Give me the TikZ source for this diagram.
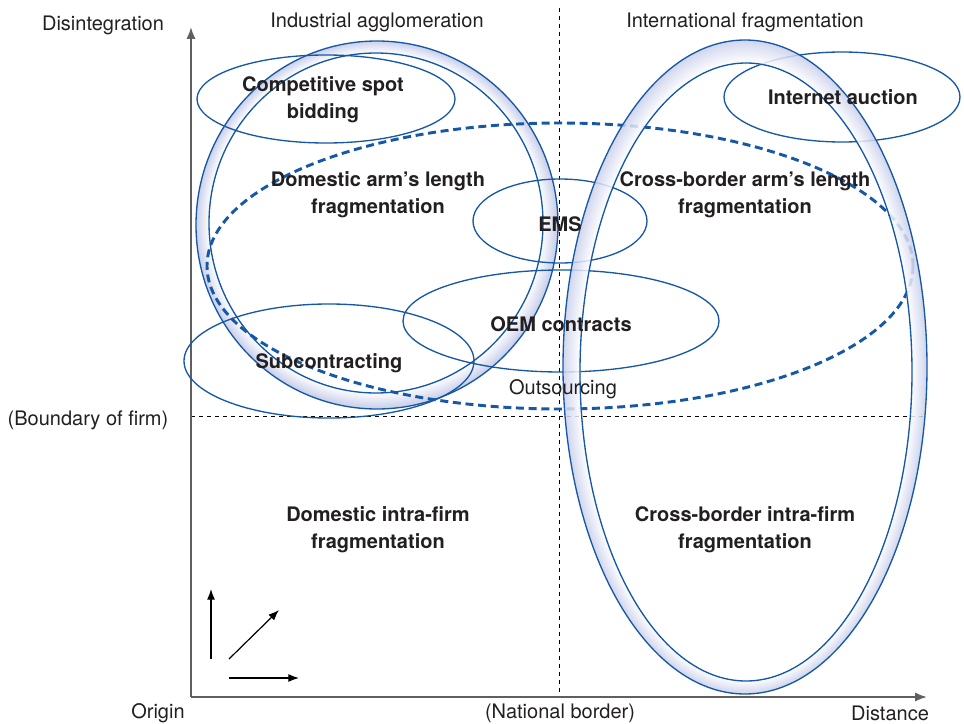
\documentclass[tikz,border=0pt]{standalone}
\usepackage{fontspec}
\setmainfont{TeX Gyre Heros}
\usepackage{xcolor}
\usetikzlibrary{arrows.meta}

\definecolor{ringblue}{RGB}{22,88,165}
\definecolor{tubefill}{RGB}{150,160,215}
\definecolor{inkgray}{RGB}{35,31,32}
\definecolor{axisgray}{RGB}{95,95,95}

\begin{document}
\begin{tikzpicture}[
    x=0.75pt, y=-0.75pt,
    every node/.style={font=\fontsize{15}{18.75}\selectfont, text=inkgray, align=center},
    region/.style={font=\fontsize{15}{20}\selectfont\bfseries},
    oval/.style={draw=ringblue, line width=1pt},
    outsource/.style={draw=ringblue, line width=2.2pt, dash pattern=on 6pt off 3.5pt},
    guide/.style={draw=black, line width=0.7pt, dash pattern=on 3pt off 3pt},
    axis/.style={draw=axisgray, line width=1.5pt, -{Latex[length=9pt,width=7pt]}},
    key/.style={draw=black, line width=0.9pt, -{Latex[length=8pt,width=6pt]}}
]
    \useasboundingbox (0,0) rectangle (964,724);

    % Named points
    \coordinate (origin) at (191,697);
    \coordinate (ytip) at (191,27);
    \coordinate (xtip) at (927,697);
    \coordinate (border top) at (559,8);
    \coordinate (border foot) at (559,697);
    \coordinate (firm left) at (191,416);
    \coordinate (firm right) at (925,416);

    % Left ring: industrial agglomeration
    \foreach \k in {0,...,11}{
        \pgfmathsetmacro\ta{\k/12}
        \pgfmathsetmacro\pct{50-47*\k/11}
        \fill[tubefill!\pct!white, even odd rule]
            ({377-\ta},{225-2*\ta}) ellipse [x radius={181-14*\ta}, y radius={184-14*\ta}]
            (376,223) ellipse [x radius=167, y radius=170];
    }
    \draw[oval] (377,225) ellipse [x radius=181, y radius=184];
    \draw[oval] (376,223) ellipse [x radius=167, y radius=170];

    % Guides
    \draw[guide] (border top) -- (border foot);
    \draw[guide] (firm left) -- (firm right);

    % Axes
    \draw[axis] (origin) -- (ytip);
    \draw[axis] (origin) -- (xtip);

    % Thin ellipses
    \draw[oval] (326,99) ellipse [x radius=129, y radius=44];
    \draw[oval] (842,97) ellipse [x radius=118, y radius=45];
    \draw[oval] (560,221) ellipse [x radius=87, y radius=42];
    \draw[oval] (561,321) ellipse [x radius=158, y radius=51];
    \draw[oval] (329,361) ellipse [x radius=145, y radius=57];
    \draw[outsource] (560,266) ellipse [x radius=353, y radius=143];

    % Right ring: international fragmentation
    \begin{scope}[transparency group, opacity=0.85]
        \foreach \k in {0,...,11}{
            \pgfmathsetmacro\ta{\k/12}
            \pgfmathsetmacro\pct{50-47*\k/11}
            \fill[tubefill!\pct!white, even odd rule]
                ({745+\ta},{367+5*\ta}) ellipse [x radius={182-16*\ta}, y radius={327-18*\ta}]
                (746,372) ellipse [x radius=166, y radius=309];
        }
    \end{scope}
    \draw[oval] (745,367) ellipse [x radius=182, y radius=327];
    \draw[oval] (746,372) ellipse [x radius=166, y radius=309];

    % Key arrows
    \coordinate (key up) at (211,659);
    \coordinate (key corner) at (229,659);
    \coordinate (key side) at (229,678);
    \draw[key] (key up) -- (211,589);
    \draw[key] (key corner) -- (279,610);
    \draw[key] (key side) -- (299,678);

    % Axis texts
    \node (disint) at (103,25) {Disintegration};
    \node (agglom) at (377,22) {Industrial agglomeration};
    \node (intfrag) at (745,22) {International fragmentation};
    \node (firm) at (88,420) {(Boundary of firm)};
    \node (orig) at (158,713) {Origin};
    \node (natborder) at (560,713) {(National border)};
    \node (dist) at (890,713) {Distance};

    % Region texts
    \node[region] (spot) at (323,100) {Competitive spot\\bidding};
    \node[region] (domarm) at (378,195) {Domestic arm's length\\fragmentation};
    \node[region] (crossarm) at (745,195) {Cross-border arm's length\\fragmentation};
    \node[region] (auction) at (843,97) {Internet auction};
    \node[region] (ems) at (560,224) {EMS};
    \node[region] (oem) at (561,324) {OEM contracts};
    \node[region] (subcon) at (329,363) {Subcontracting};
    \node (outsrc) at (563,389) {Outsourcing};
    \node[region] (domintra) at (378,530) {Domestic intra-firm\\fragmentation};
    \node[region] (crossintra) at (745,530) {Cross-border intra-firm\\fragmentation};
\end{tikzpicture}
\end{document}
